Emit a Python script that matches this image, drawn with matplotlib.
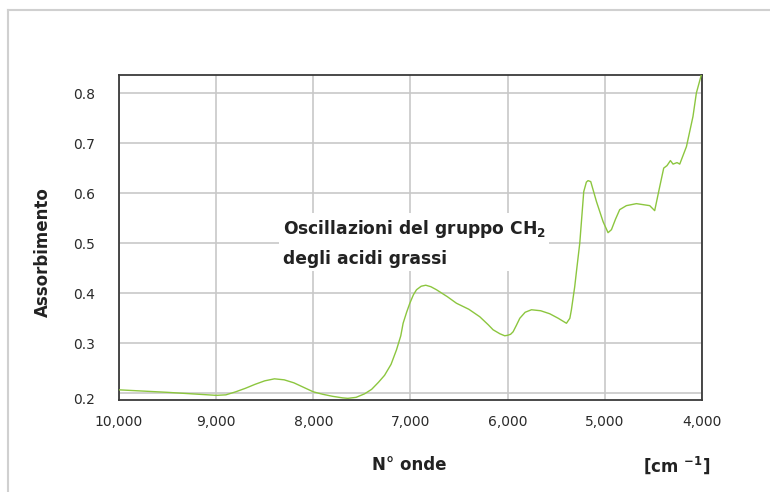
import numpy as np
import matplotlib
matplotlib.use("Agg")
from matplotlib import pyplot as plt
from matplotlib.lines import Line2D
import matplotlib.transforms as mtransforms

# spectrum: wavenumber [cm-1] vs absorbance
wavenumber = [10000, 9500, 9000, 8900, 8800, 8700, 8600, 8500, 8400, 8300, 8200, 8100,
              8000, 7900, 7800, 7700, 7645, 7560, 7473, 7400, 7330, 7267, 7200,
              7144, 7100, 7076, 7040, 7007, 6970, 6938, 6890, 6843, 6790, 6733, 6620,
              6527, 6400, 6287, 6200, 6150, 6080, 6030, 6000, 5970, 5944, 5910, 5875,
              5820, 5755, 5660, 5567, 5480, 5395, 5360, 5344, 5310, 5290, 5258, 5217,
              5190, 5173, 5145, 5086, 5018, 4967, 4932, 4890, 4847, 4778, 4675, 4538,
              4487, 4435, 4394, 4360, 4325, 4298, 4257, 4229, 4160, 4093, 4058, 4006]
absorb = [0.207, 0.202, 0.196, 0.197, 0.203, 0.210, 0.218, 0.225, 0.229, 0.227, 0.221, 0.212,
          0.203, 0.198, 0.194, 0.191, 0.190, 0.192, 0.199, 0.208, 0.222, 0.236, 0.258,
          0.287, 0.315, 0.340, 0.362, 0.380, 0.397, 0.407, 0.414, 0.416, 0.413, 0.407, 0.393,
          0.380, 0.368, 0.353, 0.337, 0.327, 0.319, 0.315, 0.316, 0.318, 0.323, 0.336, 0.350,
          0.362, 0.367, 0.365, 0.359, 0.350, 0.340, 0.350, 0.367, 0.413, 0.447, 0.500, 0.603,
          0.622, 0.625, 0.623, 0.583, 0.543, 0.521, 0.527, 0.548, 0.567, 0.575, 0.579, 0.575,
          0.565, 0.613, 0.650, 0.655, 0.665, 0.658, 0.661, 0.658, 0.693, 0.753, 0.800, 0.837]

xticks = [10000, 9000, 8000, 7000, 6000, 5000, 4000]
yticks = [0.2, 0.3, 0.4, 0.5, 0.6, 0.7, 0.8]

plt.rcParams["font.family"] = "DejaVu Sans"
plt.rcParams["mathtext.fontset"] = "dejavusans"

fig = plt.figure(figsize=(7.7, 4.92), dpi=100)
ax = fig.add_axes([119/770, 92/492, 583/770, 325/492])

ax.plot(wavenumber, absorb, color="#8cc63f", lw=1.0, clip_on=True, zorder=3)

ax.set_xlim(10000, 4000)
ax.set_ylim(0.1867, 0.836)
ax.set_xticks(xticks)
ax.set_xticklabels(["{:,}".format(v) for v in xticks])
ax.set_yticks(yticks)
ax.set_yticklabels(["{:.1f}".format(v) for v in yticks])
ax.tick_params(axis="both", length=0, labelsize=10, colors="#2a2a2a")
ax.tick_params(axis="x", pad=11)
ax.tick_params(axis="y", pad=17)
ax.grid(True, color="#c8c8c8", lw=1.2)
ax.set_axisbelow(True)
for sp in ax.spines.values():
    sp.set_color("#3a3a3a")
    sp.set_linewidth(1.3)

# lowest y label sits a bit below its gridline in the original
lbl = ax.get_yticklabels()[0]
lbl.set_transform(lbl.get_transform() + mtransforms.ScaledTranslation(0, -5/100, fig.dpi_scale_trans))

ax.text(8317, 0.5006, "Oscillazioni del gruppo CH$_\\mathbf{2}$\ndegli acidi grassi",
        ha="left", va="center", fontsize=12.3, fontweight="bold", color="#222222",
        linespacing=1.7, zorder=4,
        bbox=dict(boxstyle="square,pad=0.2", fc="white", ec="none"))

fig.text(43/770, 1 - 252/492, "Assorbimento", rotation=90, ha="center", va="center",
         fontsize=12, fontweight="bold", color="#222222")
fig.text(409/770, 1 - 465/492, "N° onde", ha="center", va="center",
         fontsize=12, fontweight="bold", color="#222222")
fig.text(677/770, 1 - 465/492, "[cm $^{\\mathbf{-1}}$]", ha="center", va="center",
         fontsize=12, fontweight="bold", color="#222222")

# light frame around the chart area
fig.add_artist(Line2D([7.5/770, 7.5/770], [0, 1 - 9.5/492], transform=fig.transFigure,
                      color="#d0d0d0", lw=1.5))
fig.add_artist(Line2D([7.5/770, 1], [1 - 9.5/492, 1 - 9.5/492], transform=fig.transFigure,
                      color="#d0d0d0", lw=1.5))

fig.savefig("out.png", dpi=100)
